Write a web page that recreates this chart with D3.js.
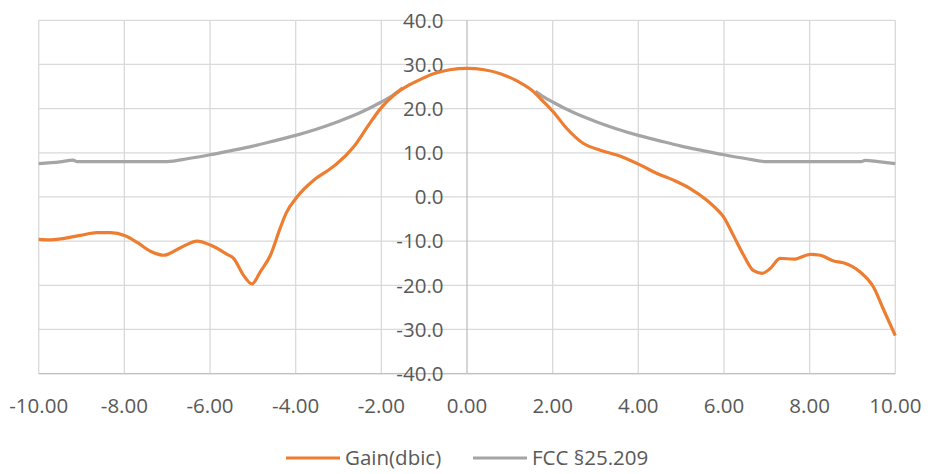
<!DOCTYPE html>
<html><head><meta charset="utf-8">
<script src="https://cdn.jsdelivr.net/npm/d3@7"></script>
<style>body{margin:0;background:#fff}svg{display:block}text{font-family:"Open Sans",sans-serif;fill:#595959}</style>
</head><body><svg id="c" width="930" height="474"></svg>
<script>
const xTicks = [-10,-8,-6,-4,-2,0,2,4,6,8,10];
const yTicks = [-40,-30,-20,-10,0,10,20,30,40];
const seriesNames = ["Gain(dbic)", "FCC §25.209"];
const gainX = [-10,-9.73,-9.03,-8.64,-8.33,-7.98,-7.7,-7.39,-7.08,-6.69,-6.3,-5.99,-5.6,-5.45,-5.22,-5.02,-4.83,-4.59,-4.36,-4.22,-3.97,-3.58,-3.19,-3.04,-2.65,-2.33,-2.02,-1.71,-1.36,-1.05,-0.78,-0.4,0,0.4,0.78,1.2,1.56,1.71,2.02,2.33,2.72,3.11,3.58,4.05,4.44,4.82,5.21,5.6,5.8,5.99,6.22,6.46,6.69,6.89,7.08,7.31,7.63,8.02,8.25,8.56,8.79,9.18,9.49,9.73,10];
const gainY = [-9.6,-9.7,-8.7,-8.1,-8.1,-8.8,-10.3,-12.3,-13.2,-11.5,-10.0,-10.9,-13.0,-13.9,-17.7,-19.7,-17.0,-13.2,-7.0,-3.6,0.0,3.8,6.4,7.5,11.3,15.8,20.0,23.0,25.3,26.8,27.9,28.8,29.1,28.8,27.9,26.1,23.8,22.3,19.2,15.5,12.1,10.6,9.2,7.2,5.3,3.8,1.9,-0.75,-2.5,-4.5,-8.7,-13.2,-16.7,-17.3,-16.2,-13.9,-14.1,-13.0,-13.2,-14.5,-14.9,-17.0,-20.4,-25.6,-31.4];
const fccX = [-10,-9.5,-9.2,-9.1,-8,-7,-6.5,-6,-5.5,-5,-4.5,-4,-3.5,-3,-2.5,-2,-1.75,-1.5,0,1.6,1.75,2,2.5,3,3.5,4,4.5,5,5.5,6,6.5,7,8,9.2,9.3,9.6,10];
const fccY = [7.55,7.95,8.35,8.0,8.0,8.0,8.7,9.55,10.5,11.5,12.7,13.95,15.4,17.1,19.05,21.5,22.9,24.7,null,23.9,22.9,21.5,19.05,17.1,15.4,13.95,12.7,11.5,10.5,9.55,8.7,8.0,8.0,8.0,8.3,8.0,7.55];

const svg = d3.select("#c");
const L = 38.7, R = 895.3, T = 20.3, B = 373.6;
const x = d3.scaleLinear().domain([-10,10]).range([L,R]);
const y = d3.scaleLinear().domain([-40,40]).range([B,T]);
const fmt = p => d => d3.format("." + p + "f")(d).replace("\u2212","-");

svg.append("g").selectAll("line").data(yTicks).join("line")
  .attr("x1",L).attr("x2",R).attr("y1",d=>y(d)).attr("y2",d=>y(d))
  .attr("stroke","#d9d9d9").attr("stroke-width",1.3);
svg.append("g").selectAll("line").data(xTicks.filter(d=>d!==0)).join("line")
  .attr("x1",d=>x(d)).attr("x2",d=>x(d)).attr("y1",T).attr("y2",B)
  .attr("stroke","#d9d9d9").attr("stroke-width",1.3);
svg.append("line").attr("x1",x(0)).attr("x2",x(0)).attr("y1",T).attr("y2",B).attr("stroke","#bfbfbf").attr("stroke-width",1.3);
svg.append("line").attr("x1",L).attr("x2",R).attr("y1",B).attr("y2",B).attr("stroke","#bfbfbf").attr("stroke-width",1.3);

svg.append("g").selectAll("text").data(yTicks).join("text")
  .attr("x",443.5).attr("y",d=>y(d)).attr("dy","0.36em").attr("text-anchor","end")
  .style("font-size","20.5px").text(fmt(1));
svg.append("g").selectAll("text").data(xTicks).join("text")
  .attr("x",d=>x(d)).attr("y",413).attr("text-anchor","middle")
  .style("font-size","20.5px").text(fmt(2));

const gainData = gainX.map((d,i)=>({x:d,y:gainY[i]}));
const fccData = fccX.map((d,i)=>({x:d,y:fccY[i]}));
const line = d3.line().defined(d=>d.y!==null).x(d=>x(d.x)).y(d=>y(d.y)).curve(d3.curveMonotoneX);

svg.append("path").datum(fccData).attr("d",line).attr("fill","none").attr("stroke","#a5a5a5").attr("stroke-width",3.2).attr("stroke-linejoin","round");
svg.append("path").datum(gainData).attr("d",line).attr("fill","none").attr("stroke","#ed7d31").attr("stroke-width",3.2).attr("stroke-linejoin","round");

const leg = [{name:seriesNames[0],c:"#ed7d31",x0:286,tx:345},{name:seriesNames[1],c:"#a5a5a5",x0:473,tx:532}];
const lg = svg.append("g");
leg.forEach(l=>{
  lg.append("line").attr("x1",l.x0).attr("x2",l.x0+54).attr("y1",458).attr("y2",458).attr("stroke",l.c).attr("stroke-width",3.2);
  lg.append("text").attr("x",l.tx).attr("y",465).style("font-size","20.5px").text(l.name);
});
</script></body></html>
